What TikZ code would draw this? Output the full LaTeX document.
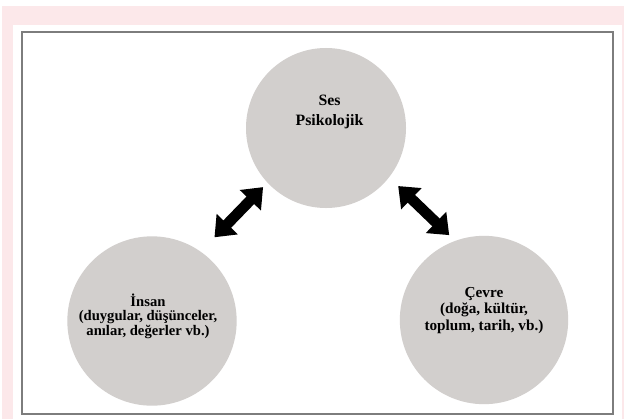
\documentclass[tikz,border=0pt]{standalone}
\usepackage{fontspec}
\setmainfont{Liberation Serif}
\usetikzlibrary{arrows.meta, positioning}
\definecolor{bgPink}{HTML}{FCE8EA}
\definecolor{frameGrey}{HTML}{7D7D7D}
\definecolor{discGrey}{HTML}{D2CFCD}
\tikzset{
  disc/.style     = {circle, fill=discGrey, draw=none, inner sep=0pt, outer sep=0pt, minimum size=#1},
  disclbl/.style  = {align=center, inner sep=0pt, text=black},
  dblarrow/.style = {{Triangle[length=5.5mm, width=8.5mm]}-{Triangle[length=5.5mm, width=8.5mm]},
                     line width=3.2mm, black},
}

\begin{document}
\begin{tikzpicture}[x=0.03cm, y=-0.03cm]
  \useasboundingbox (0,0) rectangle (627,419);
  \fill[white] (0,0) rectangle (627,419);
  \fill[bgPink] (2,6) rectangle (624,419);
  \fill[white] (13,25) rectangle (622,419);
  \draw[frameGrey, line width=2pt] (22,32) rectangle (613,414);

  \node[disc=4.8cm]  (ses)   at (326,128) {};
  \node[disc=5.08cm] (insan) at (152,321) {};
  \node[disc=5.05cm] (cevre) at (484,320) {};

  \node[disclbl, font=\bfseries\fontsize{13.5}{17}\selectfont] (seslbl) at (329.5,111.5)
    {Ses\\Psikolojik};
  \node[disclbl, font=\bfseries\fontsize{12.5}{12.5}\selectfont] (insanlbl) at (148,316)
    {İnsan\\(duygular, düşünceler,\\anılar, değerler vb.)};
  \node[disclbl, font=\bfseries\fontsize{13}{14}\selectfont] (cevrelbl) at (484,310.5)
    {Çevre\\(doğa, kültür,\\toplum, tarih, vb.)};

  \draw[dblarrow, shorten <=0.6cm, shorten >=0.19cm] (insan.55) -- (ses.223);
  \draw[dblarrow, shorten <=0.38cm, shorten >=0.25cm] (ses.322) -- (cevre.110);
\end{tikzpicture}
\end{document}
